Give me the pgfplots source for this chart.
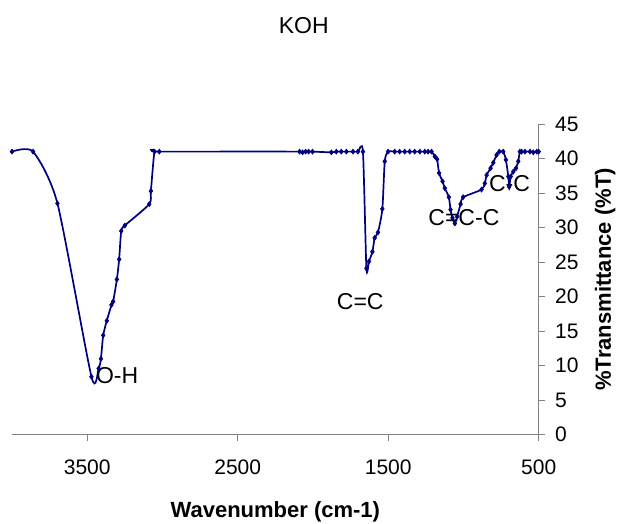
\documentclass[border=0pt]{standalone}
\usepackage{fontspec}
\setmainfont{Liberation Sans}
\usepackage{pgfplots}
\pgfplotsset{compat=1.18}
\definecolor{navyline}{RGB}{0,0,128}
\definecolor{axgray}{RGB}{128,128,128}
\begin{document}
\begin{tikzpicture}[x=1pt,y=1pt]
\path[use as bounding box] (0,0) rectangle (617,523);
\begin{axis}[
  at={(12pt,88.3pt)}, anchor=south west,
  scale only axis, width=526.7pt, height=310.7pt,
  x dir=reverse, xmin=500, xmax=4000, ymin=0, ymax=45,
  axis x line*=bottom, axis y line*=right,
  every outer x axis line/.append style={-},
  every outer y axis line/.append style={-},
  axis line style={draw=axgray, line width=0.9pt},
  xtick={3500,2500,1500,500}, ytick={0,5,...,45},
  tick style={draw=axgray, line width=0.9pt},
  tick align=outside, major tick length=6pt,
  scaled ticks=false,
  /pgf/number format/1000 sep={},
  /pgf/number format/assume math mode=true,
  tick label style={font=\fontsize{21}{24}\selectfont},
  xticklabel style={yshift=-16pt},
  yticklabel style={xshift=7pt},
  xlabel={Wavenumber (cm-1)},
  ylabel={\%Transmittance (\%T)},
  label style={font=\bfseries\fontsize{22}{26}\selectfont},
  xlabel style={at={(axis description cs:0.5,-0.2678)}, anchor=base},
  ylabel style={at={(axis description cs:1.137,0.5)}, anchor=base, rotate=0},
  clip=false,
]
\addplot[navyline, line width=1.7pt, smooth, tension=0.4,
  mark=diamond*, mark size=2.5pt, mark options={fill=navyline, draw=navyline, line width=0.6pt}]
coordinates {
(4000,41.0) (3860,41.0) (3698,33.5) (3472,8.4) (3424,9.6) (3409,11.0)
(3394,14.4) (3370,16.5) (3339,18.8) (3328,19.3) (3303,22.5) (3288,25.4)
(3274,29.5) (3250,30.3) (3088,33.4) (3077,35.3) (3053,41.0) (3021,41.0)
(2089,41.0) (2069,40.9) (2049,41.0) (2029,41.0) (2003,41.0)
(1878,40.9) (1845,41.0) (1812,41.0) (1778,41.0) (1734,41.0) (1701,41.0) (1668,41.0)
(1645,24.1) (1628,25.1) (1605,26.5) (1590,28.5) (1568,29.3) (1539,32.7)
(1523,39.6) (1501,41.0) (1457,41.0) (1424,41.0) (1390,41.0) (1357,41.0)
(1324,41.0) (1290,41.0) (1257,41.0) (1235,41.0) (1212,41.0)
(1190,40.3) (1175,39.9) (1162,37.9) (1139,36.7) (1124,35.7) (1097,34.4)
(1086,32.6) (1073,31.4) (1057,30.6) (1042,31.6) (1019,33.4) (1002,34.4)
(880,35.5) (858,36.4) (846,37.6) (820,38.6) (802,39.4) (780,40.5)
(762,41.0) (736,41.0) (718,39.8) (702,37.4) (696,35.9) (686,37.4)
(669,38.1) (651,38.6) (636,39.6) (625,41.0) (613,41.0) (591,41.0)
(558,41.0) (536,40.9) (513,41.0) (500,41.0)
};
\node[font=\fontsize{23}{27}\selectfont, inner sep=0pt] at (axis cs:3301,8.5) {O-H};
\node[font=\fontsize{23}{27}\selectfont, inner sep=0pt] at (axis cs:1686,19.3) {C=C};
\node[font=\fontsize{23}{27}\selectfont, inner sep=0pt] at (axis cs:997,31.4) {C=C-C};
\node[font=\fontsize{23}{27}\selectfont, inner sep=0pt] at (axis cs:694,36.4) {C-C};
\end{axis}
\node[font=\fontsize{23}{27}\selectfont, anchor=base] at (303.7,489.1) {KOH};
\end{tikzpicture}
\end{document}
